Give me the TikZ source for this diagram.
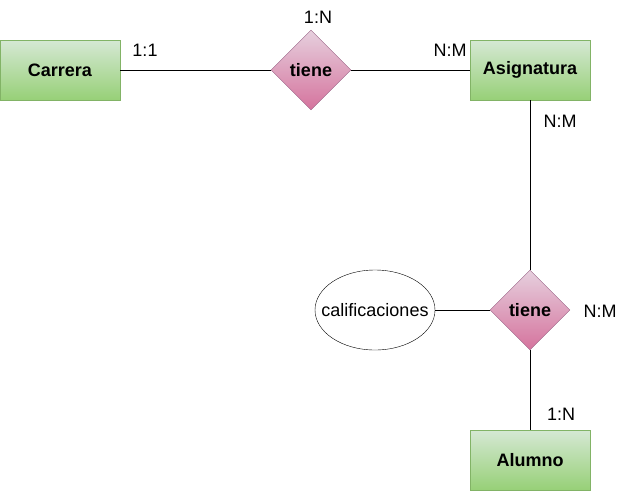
\documentclass[tikz,border=0pt]{standalone}
\usepackage{fontspec}
\setmainfont{Liberation Sans}
\usepackage{tikz}
\usetikzlibrary{shapes.geometric}
\definecolor{verdeBorde}{HTML}{82B366}
\definecolor{verdeArriba}{HTML}{D5E8D4}
\definecolor{verdeAbajo}{HTML}{97D077}
\definecolor{rosaBorde}{HTML}{996185}
\definecolor{rosaArriba}{HTML}{E6D0DE}
\definecolor{rosaAbajo}{HTML}{D5739D}
\begin{document}
\begin{tikzpicture}[x=1pt,y=-1pt,
  font=\fontsize{18}{21}\selectfont,
  entidad/.style={draw=verdeBorde,top color=verdeArriba,bottom color=verdeAbajo,
    minimum width=120pt,minimum height=60pt,font=\fontsize{18}{21}\selectfont\bfseries},
  relacion/.style={diamond,draw=rosaBorde,top color=rosaArriba,bottom color=rosaAbajo,
    inner sep=0pt,minimum size=80pt,font=\fontsize{18}{21}\selectfont\bfseries},
  atributo/.style={ellipse,draw,minimum width=120pt,minimum height=80pt,inner sep=0pt},
  card/.style={inner sep=0pt}]
\useasboundingbox (0,0) rectangle (631,491);
\node[entidad] (carrera) at (60,70) {Carrera};
\node[relacion] (tiene1) at (311,70) {tiene};
\node[entidad] (asignatura) at (530,70) {Asignatura};
\node[relacion] (tiene2) at (530,310) {tiene};
\node[atributo] (calif) at (375,310) {\makebox[0pt]{calificaciones}};
\node[entidad] (alumno) at (530,460) {Alumno};

\draw (carrera) -- (tiene1);
\draw (tiene1) -- (asignatura);
\draw (asignatura) -- (tiene2);
\draw (calif) -- (tiene2);
\draw (tiene2) -- (alumno);

\node[card] (c1) at (318,17) {1:N};
\node[card] (c2) at (145,50) {1:1};
\node[card] (c3) at (450,50) {N:M};
\node[card] (c4) at (560,121) {N:M};
\node[card] (c5) at (600,311) {N:M};
\node[card] (c6) at (561,414) {1:N};
\end{tikzpicture}
\end{document}
